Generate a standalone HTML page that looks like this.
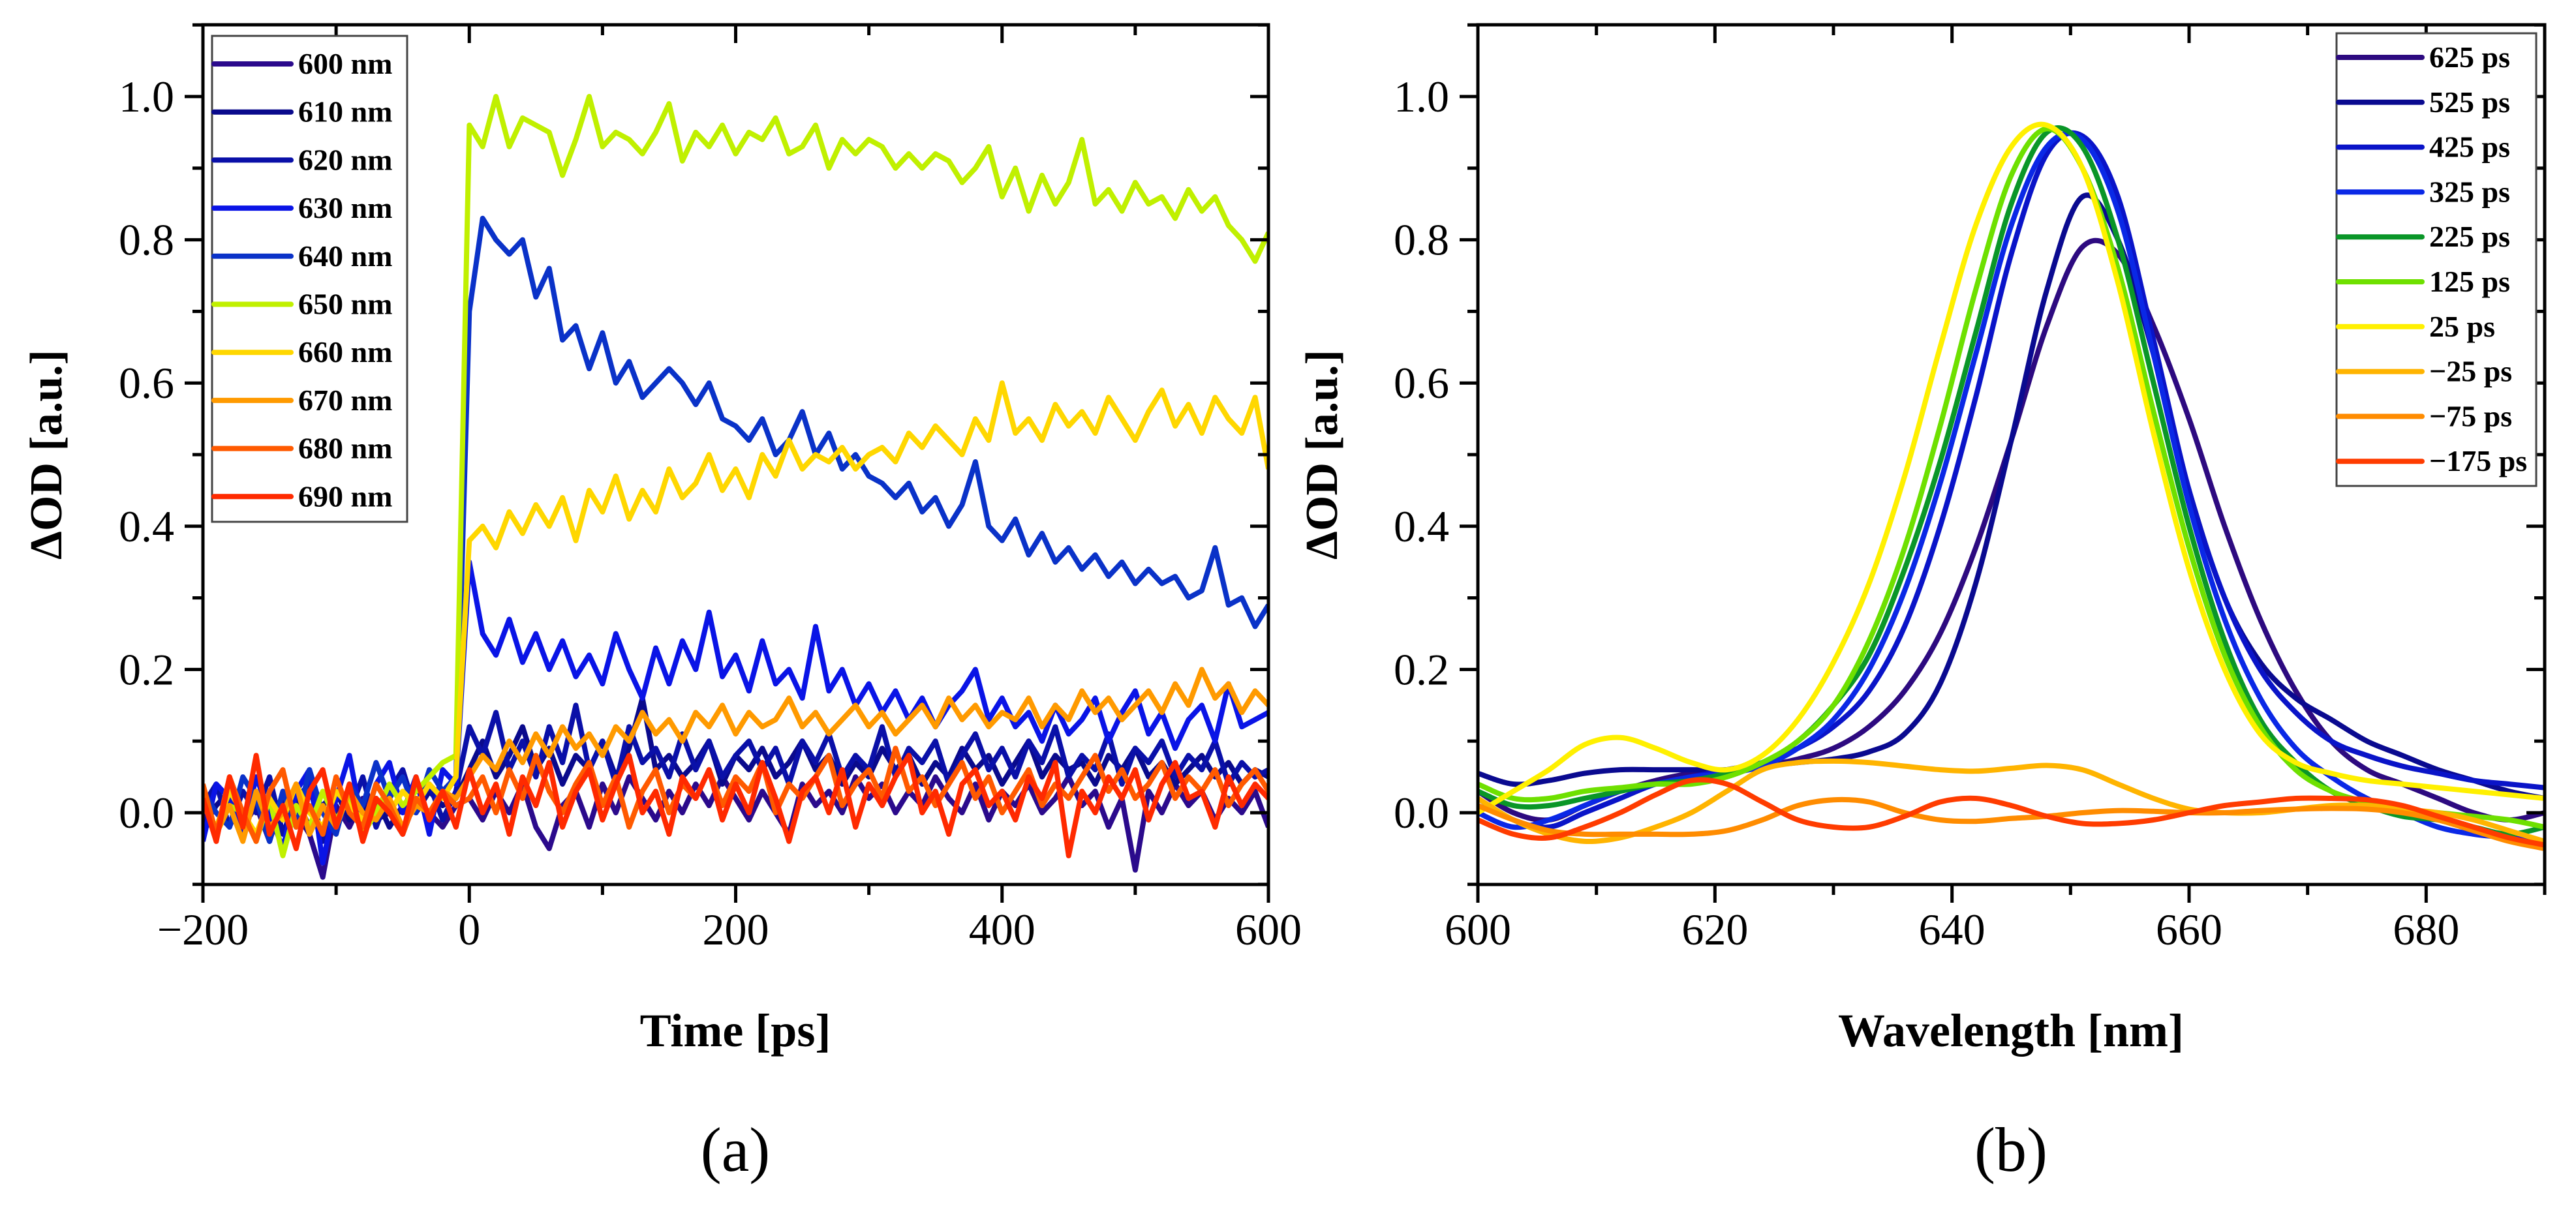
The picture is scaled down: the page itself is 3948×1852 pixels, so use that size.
<!DOCTYPE html>
<html><head><meta charset="utf-8"><style>
html,body{margin:0;padding:0;background:#fff;}
svg{display:block;}
</style></head><body>
<svg id="fig" width="3948" height="1852" viewBox="0 0 3948 1852" xmlns="http://www.w3.org/2000/svg" font-family="'Liberation Serif', serif"></svg>
<script>
// ---------- Panel (a) data ----------
const timeStart = -200, timeStep = 10;
const seriesALabels = ["600 nm","610 nm","620 nm","630 nm","640 nm","650 nm","660 nm","670 nm","680 nm","690 nm"];
const seriesAColors = ["#2b0a8c","#0a0a8c","#0a10a8","#0a14e6","#0a32c8","#c0f000","#ffd700","#ff9a00","#ff5a00","#ff2a00"];
const s600 = [0.0,-0.03,0.02,-0.02,0.01,-0.04,0.02,0.0,-0.03,-0.09,0.01,-0.02,0.02,-0.01,0.0,-0.03,0.02,0.0,-0.02,0.01,
0.02,-0.01,0.03,0.0,0.04,-0.02,-0.05,0.01,0.03,-0.02,0.04,0.0,0.05,0.02,-0.01,0.03,0.0,0.04,0.01,0.05,0.02,-0.01,0.03,0.0,-0.03,0.04,0.01,0.03,0.0,0.05,0.02,0.04,0.0,0.03,0.01,0.05,0.02,0.0,0.04,-0.01,0.03,0.01,0.04,0.0,0.02,0.05,0.01,0.03,-0.02,0.02,-0.08,0.03,0.0,0.04,0.01,0.03,-0.01,0.02,0.0,0.03,-0.02];
const s610 = [-0.02,0.01,0.03,-0.01,0.02,-0.03,0.0,0.02,-0.02,0.01,0.03,-0.01,0.0,0.02,-0.02,0.01,0.0,0.03,0.01,0.02,
0.06,0.1,0.05,0.08,0.12,0.06,0.09,0.04,0.08,0.06,0.1,0.05,0.09,0.16,0.06,0.08,0.05,0.07,0.1,0.04,0.08,0.06,0.09,0.05,0.07,0.1,0.06,0.08,0.04,0.07,0.05,0.09,0.06,0.08,0.04,0.07,0.05,0.09,0.06,0.08,0.04,0.07,0.1,0.05,0.08,0.06,0.07,0.04,0.08,0.06,0.09,0.05,0.07,0.04,0.06,0.08,0.05,0.07,0.04,0.06,0.05];
const s620 = [0.01,0.04,-0.02,0.03,0.0,0.05,-0.03,0.02,0.04,-0.04,0.03,0.0,0.05,-0.02,0.03,0.06,0.0,0.04,-0.01,0.03,
0.12,0.08,0.14,0.06,0.1,0.05,0.12,0.07,0.15,0.06,0.1,0.04,0.12,0.07,0.09,0.05,0.11,0.06,0.1,0.05,0.08,0.1,0.06,0.09,0.04,0.1,0.07,0.11,0.05,0.08,0.06,0.12,0.05,0.09,0.07,0.1,0.04,0.08,0.11,0.06,0.09,0.05,0.1,0.07,0.12,0.05,0.08,0.06,0.11,0.04,0.09,0.07,0.1,0.05,0.08,0.06,0.1,0.04,0.07,0.05,0.06];
const s630 = [-0.04,0.04,0.02,-0.03,0.05,0.0,-0.05,0.03,0.06,-0.07,0.02,0.08,-0.02,0.04,0.07,0.0,0.05,-0.03,0.06,0.04,
0.35,0.25,0.22,0.27,0.21,0.25,0.2,0.24,0.19,0.22,0.18,0.25,0.2,0.16,0.23,0.18,0.24,0.2,0.28,0.19,0.22,0.17,0.24,0.18,0.2,0.16,0.26,0.17,0.2,0.15,0.18,0.14,0.17,0.13,0.16,0.12,0.15,0.17,0.2,0.13,0.16,0.12,0.14,0.1,0.15,0.11,0.13,0.16,0.1,0.14,0.17,0.11,0.14,0.09,0.13,0.15,0.1,0.18,0.12,0.13,0.14];
const s640 = [0.03,0.0,-0.02,0.05,0.02,-0.04,0.03,-0.02,0.06,0.0,-0.03,0.04,0.01,0.07,0.02,0.05,0.0,0.06,0.03,0.05,
0.7,0.83,0.8,0.78,0.8,0.72,0.76,0.66,0.68,0.62,0.67,0.6,0.63,0.58,0.6,0.62,0.6,0.57,0.6,0.55,0.54,0.52,0.55,0.5,0.52,0.56,0.5,0.53,0.48,0.5,0.47,0.46,0.44,0.46,0.42,0.44,0.4,0.43,0.49,0.4,0.38,0.41,0.36,0.39,0.35,0.37,0.34,0.36,0.33,0.35,0.32,0.34,0.32,0.33,0.3,0.31,0.37,0.29,0.3,0.26,0.29];
const s650 = [0.02,-0.03,0.01,0.0,-0.04,0.02,-0.06,0.01,-0.02,0.03,-0.01,0.02,-0.03,0.0,0.04,0.01,0.03,0.05,0.07,0.08,
0.96,0.93,1.0,0.93,0.97,0.96,0.95,0.89,0.94,1.0,0.93,0.95,0.94,0.92,0.95,0.99,0.91,0.95,0.93,0.96,0.92,0.95,0.94,0.97,0.92,0.93,0.96,0.9,0.94,0.92,0.94,0.93,0.9,0.92,0.9,0.92,0.91,0.88,0.9,0.93,0.86,0.9,0.84,0.89,0.85,0.88,0.94,0.85,0.87,0.84,0.88,0.85,0.86,0.83,0.87,0.84,0.86,0.82,0.8,0.77,0.81];
const s660 = [0.01,-0.02,0.03,0.0,-0.03,0.02,-0.01,0.04,0.0,-0.02,0.03,0.01,-0.01,0.02,0.0,0.03,0.01,0.04,0.02,0.05,
0.38,0.4,0.37,0.42,0.39,0.43,0.4,0.44,0.38,0.45,0.42,0.47,0.41,0.45,0.42,0.48,0.44,0.46,0.5,0.45,0.48,0.44,0.5,0.47,0.52,0.48,0.5,0.49,0.51,0.48,0.5,0.51,0.49,0.53,0.51,0.54,0.52,0.5,0.55,0.52,0.6,0.53,0.55,0.52,0.57,0.54,0.56,0.53,0.58,0.55,0.52,0.56,0.59,0.54,0.57,0.53,0.58,0.55,0.53,0.58,0.48];
const s670 = [0.02,-0.03,0.01,-0.04,0.03,-0.02,0.0,0.04,-0.03,0.01,-0.02,0.03,0.0,-0.01,0.02,-0.02,0.01,0.0,0.03,0.02,
0.05,0.08,0.06,0.1,0.07,0.11,0.08,0.12,0.09,0.11,0.08,0.12,0.1,0.14,0.11,0.13,0.1,0.14,0.12,0.15,0.11,0.14,0.12,0.13,0.16,0.12,0.14,0.11,0.13,0.15,0.12,0.14,0.11,0.13,0.15,0.12,0.16,0.13,0.15,0.12,0.14,0.13,0.16,0.12,0.15,0.13,0.17,0.14,0.16,0.13,0.15,0.17,0.14,0.18,0.15,0.2,0.16,0.18,0.14,0.17,0.15];
const s680 = [0.04,-0.03,0.05,0.0,-0.04,0.03,0.06,-0.02,0.01,-0.03,0.05,0.0,-0.02,0.04,0.01,-0.03,0.02,0.0,0.03,0.01,
0.02,0.05,0.0,0.06,0.02,0.08,0.03,0.0,0.04,0.07,0.01,0.05,-0.02,0.03,0.06,0.0,0.04,0.02,0.06,0.01,0.05,0.03,0.07,0.0,0.04,0.02,0.05,0.08,0.01,0.04,0.06,0.02,0.09,0.03,0.05,0.01,0.04,0.07,0.02,0.05,0.0,0.03,0.06,0.01,0.04,0.02,0.05,0.08,0.03,0.06,0.02,0.04,0.07,0.02,0.05,0.03,0.06,0.01,0.04,0.06,0.03];
const s690 = [0.02,-0.04,0.05,-0.02,0.08,-0.03,0.01,-0.05,0.03,0.06,-0.02,0.04,-0.04,0.02,0.0,-0.03,0.05,-0.01,0.03,-0.02,
0.06,0.0,0.04,-0.03,0.05,0.01,0.07,-0.02,0.03,0.06,-0.01,0.04,0.08,0.0,0.03,-0.03,0.05,0.02,0.06,-0.01,0.04,0.0,0.07,0.02,-0.04,0.03,0.05,0.0,0.06,-0.02,0.04,0.01,0.05,0.08,0.0,0.03,-0.03,0.04,0.06,0.01,0.03,-0.01,0.05,0.02,0.07,-0.06,0.03,0.0,0.05,0.02,0.06,-0.01,0.04,0.07,0.02,0.03,-0.02,0.05,0.01,0.04,0.02];
const seriesA = [s600,s610,s620,s630,s640,s650,s660,s670,s680,s690];
const xTicksA = [-200,0,200,400,600];
const xTickLabelsA = ["\u2212200","0","200","400","600"];
const yTicks = [0.0,0.2,0.4,0.6,0.8,1.0];
const yTickLabels = ["0.0","0.2","0.4","0.6","0.8","1.0"];

// ---------- Panel (b) data ----------
const wavelengths = [600,603,606,609,612,615,618,621,624,627,630,633,636,639,642,645,648,651,654,657,660,663,666,669,672,675,678,681,684,687,690];
const seriesBLabels = ["625 ps","525 ps","425 ps","325 ps","225 ps","125 ps","25 ps","\u221225 ps","\u221275 ps","\u2212175 ps"];
const seriesBColors = ["#2d0a80","#0a0a90","#0a14c8","#0a28e6","#0a9628","#6ee000","#fff000","#ffb400","#ff8c00","#ff3c00"];
const b625 = [0.03,0.0,-0.01,0.01,0.03,0.045,0.055,0.06,0.065,0.075,0.09,0.12,0.17,0.25,0.37,0.52,0.68,0.79,0.78,0.68,0.55,0.40,0.27,0.17,0.10,0.06,0.04,0.02,0.0,-0.01,0.0];
const b525 = [0.055,0.04,0.045,0.055,0.06,0.06,0.06,0.06,0.065,0.07,0.075,0.085,0.11,0.18,0.32,0.52,0.73,0.86,0.80,0.64,0.45,0.30,0.21,0.16,0.13,0.10,0.08,0.06,0.045,0.03,0.02];
const b425 = [0.02,-0.01,-0.02,0.0,0.02,0.04,0.05,0.06,0.07,0.09,0.12,0.17,0.26,0.40,0.58,0.78,0.92,0.945,0.86,0.66,0.45,0.30,0.20,0.14,0.10,0.08,0.065,0.055,0.045,0.04,0.035];
const b325 = [0.0,-0.02,-0.01,0.01,0.03,0.04,0.05,0.055,0.065,0.09,0.13,0.20,0.31,0.46,0.64,0.82,0.93,0.94,0.84,0.64,0.43,0.27,0.16,0.09,0.05,0.02,0.0,-0.02,-0.03,-0.035,-0.04];
const b225 = [0.03,0.01,0.01,0.02,0.03,0.04,0.045,0.055,0.07,0.10,0.15,0.22,0.34,0.49,0.67,0.85,0.95,0.93,0.80,0.60,0.40,0.24,0.13,0.07,0.03,0.01,-0.005,-0.01,-0.02,-0.03,-0.02];
const b125 = [0.04,0.02,0.02,0.03,0.035,0.04,0.04,0.05,0.07,0.10,0.15,0.24,0.37,0.54,0.73,0.89,0.955,0.90,0.76,0.56,0.37,0.22,0.12,0.06,0.03,0.015,0.005,0.0,-0.005,-0.01,-0.02];
const b25 = [0.0,0.03,0.06,0.095,0.105,0.09,0.07,0.06,0.08,0.13,0.21,0.32,0.47,0.65,0.82,0.93,0.96,0.90,0.74,0.53,0.34,0.20,0.11,0.07,0.055,0.045,0.04,0.035,0.03,0.025,0.02];
const bm25 = [0.02,-0.01,-0.03,-0.04,-0.035,-0.02,0.0,0.03,0.06,0.07,0.072,0.07,0.065,0.06,0.058,0.062,0.066,0.06,0.04,0.02,0.005,0.0,0.0,0.005,0.01,0.01,0.005,0.0,-0.01,-0.025,-0.04];
const bm75 = [0.01,-0.01,-0.025,-0.03,-0.03,-0.03,-0.03,-0.025,-0.01,0.01,0.018,0.015,0.0,-0.01,-0.012,-0.008,-0.005,0.0,0.003,0.002,0.0,0.0,0.003,0.005,0.006,0.005,0.0,-0.01,-0.025,-0.04,-0.05];
const bm175 = [-0.01,-0.03,-0.035,-0.02,0.0,0.025,0.045,0.04,0.015,-0.01,-0.02,-0.02,-0.005,0.015,0.02,0.01,-0.005,-0.015,-0.015,-0.01,0.0,0.01,0.015,0.02,0.02,0.018,0.01,-0.005,-0.02,-0.035,-0.045];
const seriesB = [b625,b525,b425,b325,b225,b125,b25,bm25,bm75,bm175];
const xTicksB = [600,620,640,660,680];
const xTickLabelsB = ["600","620","640","660","680"];

// ---------- drawing ----------
const NS = "http://www.w3.org/2000/svg";
const svg = document.getElementById('fig');
function mk(tag, attrs, parent){
  const e = document.createElementNS(NS, tag);
  for (const k in attrs) e.setAttribute(k, attrs[k]);
  (parent||svg).appendChild(e);
  return e;
}
const Y0 = 1246, YPX = 1098, TOP = 38, BOT = 1356;
function yScale(v){ return Y0 - v*YPX; }
const AL = 311, AR = 1944, BL = 2265, BR = 3900;
function xA(t){ return AL + (t+200)/800*(AR-AL); }
function xB(w){ return BL + (w-600)/90*(BR-BL); }

function drawAxes(left, right, xMajor, xMinorStep, xmin, xmax, xf, labels, prefix){
  const g = mk('g', {});
  
  
  const fr = mk('rect', {x:left, y:TOP, width:right-left, height:BOT-TOP, fill:'none', stroke:'#000', 'stroke-width':5}, g);
  
  
  for (let v = xmin; v <= xmax+1e-9; v += xMinorStep){
    const x = xf(v);
    const major = xMajor.some(m => Math.abs(m-v) < 1e-6);
    const L = major ? 28 : 16;
    mk('line', {x1:x, y1:BOT, x2:x, y2:BOT+L, stroke:'#000', 'stroke-width':5}, g);
    mk('line', {x1:x, y1:TOP, x2:x, y2:TOP+L, stroke:'#000', 'stroke-width':5}, g);
  }
  xMajor.forEach((v,i) => {
    const t = mk('text', {x:xf(v), y:1448, 'font-size':68, 'text-anchor':'middle', fill:'#000'}, g);
    t.textContent = labels[i];
    
    
  });
  for (let k = -1; k <= 11; k++){
    const v = k/10, y = yScale(v);
    const major = k % 2 === 0 && k >= 0;
    const L = major ? 28 : 16;
    mk('line', {x1:left, y1:y, x2:left-L, y2:y, stroke:'#000', 'stroke-width':5}, g);
    mk('line', {x1:right, y1:y, x2:right-L, y2:y, stroke:'#000', 'stroke-width':5}, g);
  }
  yTicks.forEach((v,i) => {
    const t = mk('text', {x:left-44, y:yScale(v)+23, 'font-size':68, 'text-anchor':'end', fill:'#000'}, g);
    t.textContent = yTickLabels[i];
    
    
  });
}

function catmull(pts){
  let d = 'M'+pts[0][0].toFixed(1)+','+pts[0][1].toFixed(1);
  for (let i=0;i<pts.length-1;i++){
    const p0 = pts[i-1]||pts[i], p1 = pts[i], p2 = pts[i+1], p3 = pts[i+2]||pts[i+1];
    const c1x = p1[0]+(p2[0]-p0[0])/6, c1y = p1[1]+(p2[1]-p0[1])/6;
    const c2x = p2[0]-(p3[0]-p1[0])/6, c2y = p2[1]-(p3[1]-p1[1])/6;
    d += ' C'+c1x.toFixed(1)+','+c1y.toFixed(1)+' '+c2x.toFixed(1)+','+c2y.toFixed(1)+' '+p2[0].toFixed(1)+','+p2[1].toFixed(1);
  }
  return d;
}

const defs = mk('defs', {});
const cpA = mk('clipPath', {id:'clipA'}, defs);
mk('rect', {x:AL, y:TOP, width:AR-AL, height:BOT-TOP}, cpA);
const cpB = mk('clipPath', {id:'clipB'}, defs);
mk('rect', {x:BL, y:TOP, width:BR-BL, height:BOT-TOP}, cpB);

const gA = mk('g', {'clip-path':'url(#clipA)'});


seriesA.forEach((arr, si) => {
  const pts = arr.map((v,i) => [xA(timeStart + i*timeStep), yScale(v)]).filter(p => p[0] <= AR+1);
  const d = pts.map((p,i) => (i?'L':'M')+p[0].toFixed(1)+','+p[1].toFixed(1)).join(' ');
  const path = mk('path', {d:d, fill:'none', stroke:seriesAColors[si], 'stroke-width':8, 'stroke-linejoin':'round'}, gA);
  
  
});

const gB = mk('g', {'clip-path':'url(#clipB)'});


seriesB.forEach((arr, si) => {
  const pts = arr.map((v,i) => [xB(wavelengths[i]), yScale(v)]);
  const path = mk('path', {d:catmull(pts), fill:'none', stroke:seriesBColors[si], 'stroke-width':8, 'stroke-linejoin':'round'}, gB);
  
  
});

drawAxes(AL, AR, xTicksA, 100, -200, 600, xA, xTickLabelsA, 'panel-a');
drawAxes(BL, BR, xTicksB, 10, 600, 690, xB, xTickLabelsB, 'panel-b');

function legend(x, y, w, h, firstY, step, lineLen, labels, colors, name){
  const g = mk('g', {});
  
  
  mk('rect', {x:x, y:y, width:w, height:h, fill:'#fff', stroke:'#444', 'stroke-width':3}, g);
  labels.forEach((lab,i) => {
    const yy = firstY + i*step;
    const ln = mk('line', {x1:x+3, y1:yy, x2:x+3+lineLen, y2:yy, stroke:colors[i], 'stroke-width':8, 'stroke-linecap':'round'}, g);
    
    
    const t = mk('text', {x:x+lineLen+14, y:yy+15, 'font-size':46, 'font-weight':'bold', fill:'#000'}, g);
    t.textContent = lab;
    
    
  });
}
legend(325, 55, 299, 745, 98, 73.7, 118, seriesALabels, seriesAColors, 'panel-a-legend');
legend(3581, 51, 306, 694, 88, 68.8, 128, seriesBLabels, seriesBColors, 'panel-b-legend');

function txt(s, attrs, name){
  const t = mk('text', attrs);
  t.textContent = s;
  
  
  return t;
}
txt('\u0394OD [a.u.]', {x:0, y:0, 'font-size':70, 'font-weight':'bold', 'text-anchor':'middle', transform:'translate(94,697) rotate(-90)'}, 'panel-a-y-axis-title');
txt('\u0394OD [a.u.]', {x:0, y:0, 'font-size':70, 'font-weight':'bold', 'text-anchor':'middle', transform:'translate(2049,697) rotate(-90)'}, 'panel-b-y-axis-title');
txt('Time [ps]', {x:1127, y:1604, 'font-size':72, 'font-weight':'bold', 'text-anchor':'middle'}, 'panel-a-x-axis-title');
txt('Wavelength [nm]', {x:3082, y:1604, 'font-size':72, 'font-weight':'bold', 'text-anchor':'middle'}, 'panel-b-x-axis-title');
txt('(a)', {x:1127, y:1795, 'font-size':96, 'text-anchor':'middle'}, 'panel-a-caption');
txt('(b)', {x:3082, y:1795, 'font-size':96, 'text-anchor':'middle'}, 'panel-b-caption');
</script>
</body></html>
